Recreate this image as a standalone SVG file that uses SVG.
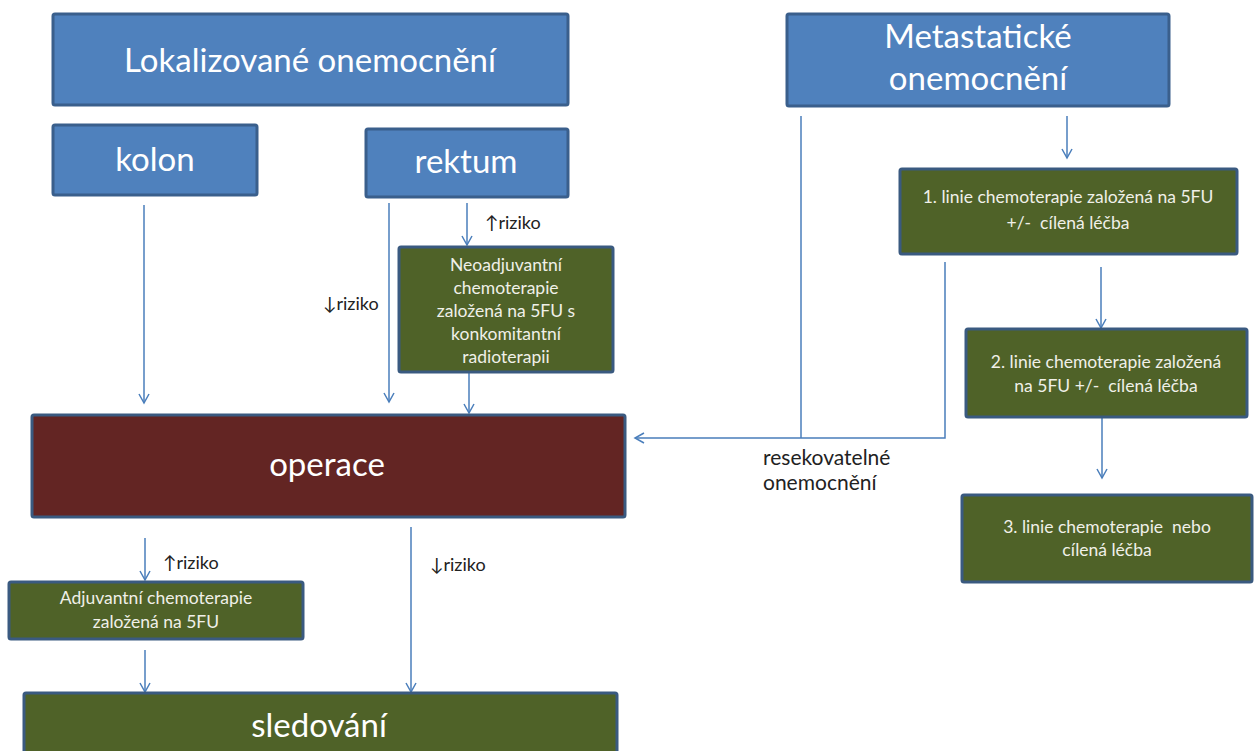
<svg xmlns="http://www.w3.org/2000/svg" width="1257" height="751" viewBox="0 0 1257 751">
<style>
.blue{fill:#4F81BD;stroke:#3A5F8C;stroke-width:3}
.green{fill:#4F6228;stroke:#3A5A80;stroke-width:3}
.red{fill:#632523;stroke:#3A5A80;stroke-width:3}
text{font-family:Lato,"Liberation Sans",sans-serif;text-anchor:middle}
.big{font-size:33px;fill:#FFFFFF}
.small{font-size:17.5px;fill:#F0F0E8}
.lbl{font-size:18px;fill:#222222;text-anchor:start}
.lbl2{font-size:21px;fill:#222222;text-anchor:start}
.c{fill:none;stroke:#4A7EBB;stroke-width:1.5}
</style>
<defs>
<marker id="ah" markerWidth="12" markerHeight="12" refX="10" refY="6" orient="auto" markerUnits="userSpaceOnUse">
<path d="M1,1 L10,6 L1,11" fill="none" stroke="#4A7EBB" stroke-width="1.5"/>
</marker>
</defs>
<g id="connectors">
<line class="c" x1="144" y1="205" x2="144" y2="403" marker-end="url(#ah)"/>
<line class="c" x1="389" y1="203" x2="389" y2="402" marker-end="url(#ah)"/>
<line class="c" x1="467" y1="203" x2="467" y2="245" marker-end="url(#ah)"/>
<line class="c" x1="469" y1="373" x2="469" y2="413" marker-end="url(#ah)"/>
<polyline class="c" points="801,116 801,438"/>
<polyline class="c" points="945,262 945,438 635,438" marker-end="url(#ah)"/>
<line class="c" x1="1067" y1="116" x2="1067" y2="158" marker-end="url(#ah)"/>
<line class="c" x1="1101" y1="267" x2="1101" y2="328" marker-end="url(#ah)"/>
<line class="c" x1="1102" y1="418" x2="1102" y2="478" marker-end="url(#ah)"/>
<line class="c" x1="145" y1="538" x2="145" y2="580" marker-end="url(#ah)"/>
<line class="c" x1="145" y1="650" x2="145" y2="692" marker-end="url(#ah)"/>
<line class="c" x1="411" y1="527" x2="411" y2="692" marker-end="url(#ah)"/>
</g>
<g id="lbl-riziko1"><text class="lbl" x="485" y="229">↑riziko</text></g>
<g id="lbl-riziko2"><text class="lbl" x="323" y="310">↓riziko</text></g>
<g id="lbl-riziko3"><text class="lbl" x="163" y="569">↑riziko</text></g>
<g id="lbl-riziko4"><text class="lbl" x="430" y="571">↓riziko</text></g>
<g id="lbl-resek"><text class="lbl2" x="763" y="465">resekovatelné</text><text class="lbl2" x="763" y="490">onemocnění</text></g>
<g id="lokalizovane">
<rect class="blue" x="53" y="14" width="515" height="91" rx="2"/>
<text class="big" x="310" y="72">Lokalizované onemocnění</text>
</g>
<g id="kolon">
<rect class="blue" x="53" y="125" width="204" height="70" rx="2"/>
<text class="big" x="155" y="171">kolon</text>
</g>
<g id="rektum">
<rect class="blue" x="366" y="129" width="202" height="68" rx="2"/>
<text class="big" x="466" y="173">rektum</text>
</g>
<g id="metastaticke">
<rect class="blue" x="787" y="14" width="382" height="92" rx="2"/>
<text class="big" x="978" y="48">Metastatické</text>
<text class="big" x="978" y="90">onemocnění</text>
</g>
<g id="neoadjuvant">
<rect class="green" x="399" y="247" width="214" height="125" rx="2"/>
<text class="small" x="506" y="271">Neoadjuvantní</text>
<text class="small" x="506" y="294">chemoterapie</text>
<text class="small" x="506" y="317">založená na 5FU s</text>
<text class="small" x="506" y="340">konkomitantní</text>
<text class="small" x="506" y="363">radioterapii</text>
</g>
<g id="linie1">
<rect class="green" x="900" y="169" width="337" height="85" rx="2"/>
<text class="small" x="1068" y="203">1. linie chemoterapie založená na 5FU</text>
<text class="small" x="1068" y="229" xml:space="preserve">+/-  cílená léčba</text>
</g>
<g id="linie2">
<rect class="green" x="966" y="329" width="281" height="88" rx="2"/>
<text class="small" x="1106" y="368">2. linie chemoterapie založená</text>
<text class="small" x="1106" y="392" xml:space="preserve">na 5FU +/-  cílená léčba</text>
</g>
<g id="linie3">
<rect class="green" x="962" y="495" width="290" height="87" rx="2"/>
<text class="small" x="1107" y="533" xml:space="preserve">3. linie chemoterapie  nebo</text>
<text class="small" x="1107" y="556">cílená léčba</text>
</g>
<g id="operace">
<rect class="red" x="32" y="415" width="593" height="102" rx="2"/>
<text class="big" x="327" y="476">operace</text>
</g>
<g id="adjuvant">
<rect class="green" x="9" y="582" width="294" height="57" rx="2"/>
<text class="small" x="156" y="604">Adjuvantní chemoterapie</text>
<text class="small" x="156" y="628">založená na 5FU</text>
</g>
<g id="sledovani">
<rect class="green" x="24" y="693" width="593" height="62" rx="2"/>
<text class="big" x="319" y="737">sledování</text>
</g>
</svg>
